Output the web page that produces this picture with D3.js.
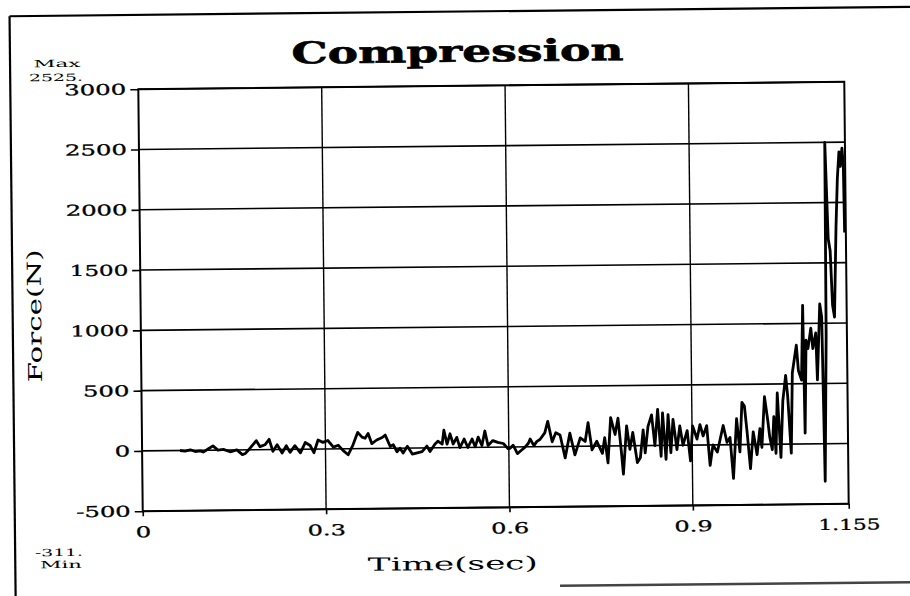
<!DOCTYPE html>
<html><head><meta charset="utf-8">
<script src="https://cdn.jsdelivr.net/npm/d3@7"></script>
<style>body{margin:0;background:#fff}svg{display:block}</style>
</head><body>
<svg id="c" width="910" height="596"></svg>
<script>
const titleText = "Compression";
const xLabelText = "Time(sec)";
const yLabelText = "Force(N)";
const maxLabel = ["Max", "2525."];
const minLabel = ["-311.", "Min"];
const xTicks = [0, 0.3, 0.6, 0.9, 1.155];
const yTicks = [-500, 0, 500, 1000, 1500, 2000, 2500, 3000];
const times = [0.062,0.070,0.079,0.087,0.095,0.100,0.108,0.116,0.124,0.133,0.144,0.155,0.164,0.169,0.177,0.187,0.193,0.201,0.208,0.214,
0.221,0.229,0.236,0.242,0.250,0.259,0.267,0.275,0.281,0.288,0.296,0.304,0.313,0.321,0.329,0.337,0.345,0.353,0.360,0.365,
0.370,0.376,0.384,0.393,0.398,0.406,0.411,0.417,0.422,0.427,0.434,0.442,0.450,0.458,0.466,0.471,0.479,0.484,0.491,0.494,
0.499,0.504,0.509,0.515,0.520,0.527,0.533,0.540,0.545,0.550,0.556,0.561,0.566,0.574,0.582,0.591,0.599,0.602,0.607,0.614,
0.620,0.627,0.632,0.635,0.641,0.646,0.651,0.659,0.664,0.671,0.677,0.684,0.692,0.700,0.708,0.717,0.725,0.730,0.736,0.744,
0.753,0.757,0.762,0.767,0.774,0.779,0.784,0.787,0.793,0.798,0.803,0.810,0.815,0.820,0.823,0.828,0.834,0.839,0.844,0.849,
0.852,0.857,0.861,0.865,0.869,0.875,0.880,0.885,0.892,0.897,0.901,0.908,0.913,0.918,0.924,0.929,0.934,0.941,0.946,0.951,
0.957,0.962,0.967,0.973,0.978,0.982,0.986,0.990,0.995,1.000,1.006,1.011,1.014,1.019,1.024,1.027,1.031,1.034,1.037,1.040,
1.045,1.049,1.054,1.057,1.062,1.065,1.072,1.075,1.080,1.083,1.085,1.088,1.091,1.096,1.099,1.104,1.106,1.111,1.114,1.117,
1.121,1.122,1.126,1.129,1.132,1.135,1.139,1.142,1.145,1.147,1.150,1.152,1.153];
const forces = [0,-5,5,-10,-5,-15,10,35,0,5,-15,0,-40,-30,15,75,25,40,85,-15,
40,-30,30,-25,30,-30,55,30,-30,75,55,70,15,30,-15,-50,30,135,95,85,
125,40,70,90,110,15,30,-30,0,-40,15,-50,-40,-30,15,-30,30,55,30,145,
30,115,30,85,0,70,0,70,5,85,15,135,15,55,40,30,-15,-10,15,-55,
-30,0,30,65,10,45,60,115,210,40,115,95,-95,110,-70,70,40,195,-30,40,
-60,70,-140,235,95,230,-45,-235,165,-30,110,-140,-100,130,-60,160,255,0,300,-90,
270,-115,255,-60,215,-35,160,0,120,-130,160,50,170,75,160,-170,0,-60,50,160,
20,60,-280,215,-60,350,320,105,-200,105,-85,130,-25,395,200,60,-45,230,-75,425,
-110,360,570,400,-75,590,820,610,530,1150,90,860,790,960,790,920,530,1160,1050,-311,
900,2500,1700,1600,1150,1050,1800,2200,2420,2300,2450,2300,1750];

const FONT = "'DejaVu Serif', 'Liberation Serif', serif";
const charW = {"1":12, ".":7, "-":8};
const labelWidth = s => s.split("").reduce((a, c) => a + (charW[c] || 15.5), 0);

const svg = d3.select("#c");
const g = svg.append("g").attr("transform", "rotate(-0.6,493,296)");

// outer frame
g.append("line").attr("x1", 12.5).attr("y1", 11.2).attr("x2", 930).attr("y2", 11.2)
  .attr("stroke", "#000").attr("stroke-width", 2.2);
g.append("line").attr("x1", 12.5).attr("y1", 11.2).attr("x2", 12.5).attr("y2", 620)
  .attr("stroke", "#000").attr("stroke-width", 2.2);
g.append("line").attr("x1", 557).attr("y1", 586.5).attr("x2", 930).attr("y2", 586.5)
  .attr("stroke", "#444").attr("stroke-width", 2.5);

const pLeft = 140.5, pTop = 85.5, pRight = 846.5, pBottom = 507.5;
const x = d3.scaleLinear().domain([0, 1.155]).range([pLeft, pRight]);
const y = d3.scaleLinear().domain([-500, 3000]).range([pBottom, pTop]);

// gridlines
g.append("g").selectAll("line").data(yTicks).join("line")
  .attr("x1", pLeft).attr("x2", pRight).attr("y1", d => y(d)).attr("y2", d => y(d))
  .attr("stroke", "#000").attr("stroke-width", 1.6);
g.append("g").selectAll("line").data(xTicks.filter(d => d > 0 && d < 1.155)).join("line")
  .attr("y1", pTop).attr("y2", pBottom).attr("x1", d => x(d)).attr("x2", d => x(d))
  .attr("stroke", "#000").attr("stroke-width", 1.4);
g.append("rect").attr("x", pLeft).attr("y", pTop).attr("width", pRight - pLeft).attr("height", pBottom - pTop)
  .attr("fill", "none").attr("stroke", "#000").attr("stroke-width", 2);

// axes
const yAxis = d3.axisLeft(y).tickValues(yTicks).tickSize(8).tickPadding(4).tickFormat(d => String(d));
const gy = g.append("g").attr("transform", `translate(${pLeft},0)`).call(yAxis);
gy.select(".domain").remove();
gy.selectAll("line").attr("stroke", "#000").attr("stroke-width", 1.6);
gy.selectAll("text").attr("font-family", FONT).attr("font-size", 15).attr("fill", "#000")
  .attr("stroke", "#000").attr("stroke-width", 0.3)
  .attr("textLength", d => labelWidth(String(d))).attr("lengthAdjust", "spacingAndGlyphs");

const xAxis = d3.axisBottom(x).tickValues(xTicks).tickSize(5).tickFormat(d => String(d));
const gx = g.append("g").attr("transform", `translate(0,${pBottom})`).call(xAxis);
gx.select(".domain").remove();
gx.selectAll("line").attr("stroke", "#000").attr("stroke-width", 1.6);
gx.selectAll("text").attr("font-family", FONT).attr("font-size", 15).attr("fill", "#000")
  .attr("stroke", "#000").attr("stroke-width", 0.3)
  .attr("y", 26).attr("dy", 0)
  .attr("textLength", d => labelWidth(String(d))).attr("lengthAdjust", "spacingAndGlyphs");

// signal
const pts = d3.zip(times, forces);
const line = d3.line().x(d => x(d[0])).y(d => y(d[1]));
g.append("path").datum(pts).attr("d", line).attr("fill", "none")
  .attr("stroke", "#000").attr("stroke-width", 2.8).attr("stroke-linejoin", "round");

// texts
g.append("text").attr("x", 460).attr("y", 61.5).attr("text-anchor", "middle")
  .attr("font-family", FONT).attr("font-weight", "bold").attr("font-size", 30)
  .attr("stroke", "#000").attr("stroke-width", 0.6)
  .attr("textLength", 332).attr("lengthAdjust", "spacingAndGlyphs").text(titleText);
g.append("text").attr("x", 450).attr("y", 569.5).attr("text-anchor", "middle")
  .attr("font-family", FONT).attr("font-size", 18)
  .attr("textLength", 170).attr("lengthAdjust", "spacingAndGlyphs").text(xLabelText);
g.append("text").attr("transform", "translate(41,311) rotate(-90)").attr("text-anchor", "middle")
  .attr("font-family", FONT).attr("font-size", 19)
  .attr("textLength", 133).attr("lengthAdjust", "spacingAndGlyphs").text(yLabelText);

const small = [
  {t: maxLabel[0], x: 59.4, y: 62.5, w: 47},
  {t: maxLabel[1], x: 58.3, y: 76.5, w: 54},
  {t: minLabel[0], x: 56.3, y: 551.5, w: 48},
  {t: minLabel[1], x: 58.2, y: 563.5, w: 42}
];
g.append("g").selectAll("text").data(small).join("text")
  .attr("x", d => d.x).attr("y", d => d.y).attr("text-anchor", "middle")
  .attr("font-family", FONT).attr("font-size", 10)
  .attr("textLength", d => d.w).attr("lengthAdjust", "spacingAndGlyphs").text(d => d.t);
</script>
</body></html>
